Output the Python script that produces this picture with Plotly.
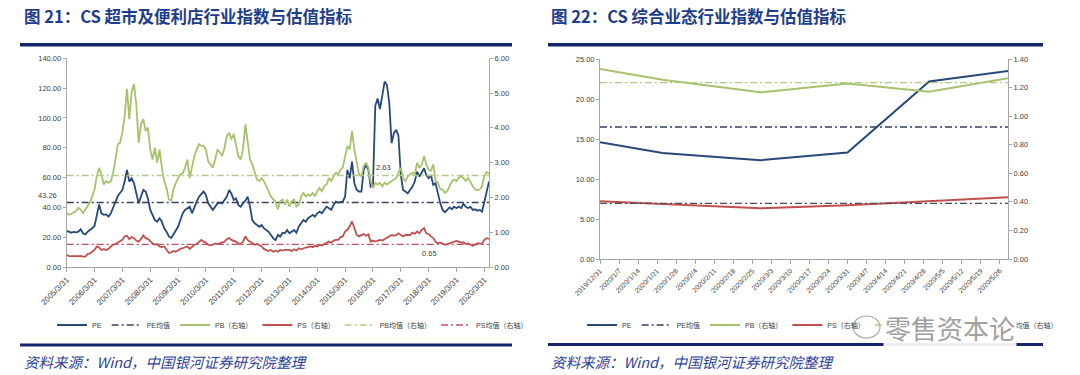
import calendar
import datetime as dt
import plotly.graph_objects as go

# ---------------- data: chart 21 (monthly, 2005/03 - 2020/05) ----------------
PE_21 = [
    24.2, 23.7, 23.0, 23.5, 23.3, 23.7, 25.3, 22.6, 21.9, 23.7, 24.8, 26.0,
    27.5, 33.8, 42.0, 36.0, 35.0, 35.3, 33.8, 36.0, 40.5, 43.8, 47.6, 49.4,
    51.7, 57.3, 65.1, 57.3, 59.5, 56.2, 49.4, 42.7, 47.2, 51.7, 50.6, 46.0,
    38.3, 35.0, 31.5, 30.4, 32.7, 30.4, 26.0, 23.7, 20.5, 19.5, 22.0, 23.7,
    27.0, 31.5, 36.0, 38.3, 39.4, 40.5, 36.0, 40.5, 43.8, 47.2, 49.4, 50.6,
    48.3, 42.7, 40.5, 38.3, 40.5, 42.7, 43.2, 42.7, 45.0, 47.2, 51.7, 49.4,
    45.0, 46.0, 41.6, 40.5, 42.7, 44.5, 47.2, 40.5, 31.5, 29.3, 28.2, 27.0,
    28.2, 26.0, 24.8, 23.7, 21.5, 19.2, 18.1, 21.5, 20.4, 23.0, 22.6, 24.8,
    22.6, 23.7, 24.8, 23.0, 27.0, 29.3, 31.5, 30.4, 32.7, 33.8, 35.0, 33.8,
    36.0, 37.1, 36.0, 38.3, 40.5, 39.4, 38.3, 41.6, 43.8, 43.2, 43.8, 43.8,
    47.2, 65.1, 59.5, 70.7, 56.2, 51.7, 50.6, 50.6, 65.1, 68.5, 65.1, 53.9,
    55.0, 108.0, 113.0, 106.0, 115.0, 124.4, 122.0, 110.0, 83.0, 90.0, 92.0, 88.0,
    62.0, 51.7, 50.6, 49.4, 51.7, 53.9, 57.3, 64.0, 60.6, 64.0, 66.2, 61.7,
    59.5, 61.7, 55.0, 56.2, 49.4, 42.7, 38.3, 36.7, 38.3, 40.0, 38.7, 40.5,
    39.4, 40.5, 39.4, 42.3, 40.5, 39.4, 40.5, 38.3, 38.7, 37.8, 38.3, 37.1,
    43.8, 51.7, 57.3,
]
PB_21 = [
    1.55, 1.50, 1.53, 1.57, 1.60, 1.70, 1.65, 1.55, 1.65, 1.76, 1.86, 2.03,
    2.23, 2.61, 2.85, 2.66, 2.37, 2.47, 2.42, 2.47, 2.71, 3.09, 3.53, 3.57,
    3.86, 4.34, 5.12, 4.25, 5.02, 5.26, 4.68, 3.57, 4.10, 4.25, 3.91, 4.01,
    3.38, 3.09, 3.43, 3.00, 3.38, 2.85, 2.47, 2.27, 1.94, 1.90, 2.25, 2.40,
    2.56, 2.66, 2.69, 2.85, 3.09, 2.56, 2.85, 3.19, 3.38, 3.53, 3.48, 3.48,
    3.38, 3.04, 2.95, 2.85, 3.09, 3.38, 3.29, 3.19, 3.43, 3.77, 3.86, 3.67,
    3.82, 3.48, 3.19, 3.09, 3.38, 4.10, 3.57, 3.09, 2.95, 2.71, 2.51, 2.47,
    2.56, 2.47, 2.32, 2.18, 2.03, 1.94, 1.89, 1.65, 1.89, 1.94, 1.79, 1.94,
    1.74, 1.89, 1.94, 1.74, 1.79, 2.03, 2.13, 2.03, 2.08, 2.05, 2.13, 2.03,
    2.18, 2.27, 2.18, 2.32, 2.37, 2.56, 2.47, 2.61, 2.71, 2.66, 2.80, 2.85,
    3.19, 3.48, 3.38, 3.91, 3.38, 2.95, 2.66, 2.61, 2.90, 3.00, 2.85, 2.47,
    2.27, 2.42, 2.37, 2.42, 2.32, 2.42, 2.37, 2.42, 2.47, 2.51, 2.56, 2.71,
    2.85, 2.56, 2.47, 2.61, 2.66, 2.71, 2.66, 3.00, 2.85, 2.95, 3.19, 2.95,
    2.80, 2.76, 2.95, 2.47, 2.42, 2.23, 2.23, 2.13, 2.18, 2.32, 2.47, 2.51,
    2.47, 2.56, 2.61, 2.56, 2.47, 2.56, 2.42, 2.32, 2.23, 2.21, 2.23, 2.32,
    2.61, 2.73, 2.69,
]
PS_21 = [
    0.35, 0.31, 0.31, 0.30, 0.31, 0.31, 0.32, 0.30, 0.30, 0.37, 0.39, 0.44,
    0.49, 0.59, 0.56, 0.49, 0.51, 0.49, 0.52, 0.59, 0.64, 0.66, 0.70, 0.73,
    0.78, 0.88, 0.90, 0.80, 0.86, 0.83, 0.76, 0.73, 0.80, 0.91, 0.83, 0.81,
    0.73, 0.68, 0.64, 0.66, 0.59, 0.57, 0.59, 0.49, 0.41, 0.42, 0.46, 0.44,
    0.49, 0.52, 0.54, 0.56, 0.59, 0.52, 0.59, 0.64, 0.66, 0.73, 0.78, 0.73,
    0.70, 0.64, 0.62, 0.64, 0.68, 0.66, 0.68, 0.70, 0.73, 0.80, 0.83, 0.78,
    0.76, 0.73, 0.68, 0.66, 0.73, 0.88, 0.78, 0.73, 0.68, 0.64, 0.66, 0.62,
    0.59, 0.52, 0.49, 0.46, 0.49, 0.44, 0.47, 0.44, 0.49, 0.47, 0.49, 0.49,
    0.49, 0.46, 0.51, 0.47, 0.54, 0.51, 0.54, 0.56, 0.57, 0.59, 0.57, 0.61,
    0.59, 0.64, 0.62, 0.66, 0.68, 0.73, 0.70, 0.76, 0.78, 0.78, 0.86, 0.88,
    1.02, 1.07, 1.17, 1.31, 1.12, 0.92, 0.88, 0.92, 0.95, 0.90, 0.94, 0.73,
    0.76, 0.73, 0.76, 0.78, 0.76, 0.80, 0.85, 0.90, 0.92, 0.90, 0.92, 0.97,
    0.92, 0.88, 0.92, 0.91, 0.92, 0.99, 0.95, 1.02, 0.97, 1.07, 1.12, 0.97,
    0.95, 0.88, 0.83, 0.73, 0.68, 0.70, 0.66, 0.64, 0.66, 0.68, 0.71, 0.73,
    0.75, 0.73, 0.70, 0.71, 0.66, 0.68, 0.64, 0.61, 0.64, 0.68, 0.68, 0.66,
    0.78, 0.83, 0.81,
]
PE_MEAN_21 = 43.26
PB_MEAN_21 = 2.63
PS_MEAN_21 = 0.65
TICKS_21 = ["2005/3/31", "2006/3/31", "2007/3/31", "2008/3/31", "2009/3/31",
            "2010/3/31", "2011/3/31", "2012/3/31", "2013/3/31", "2014/3/31",
            "2015/3/31", "2016/3/31", "2017/3/31", "2018/3/31", "2019/3/31",
            "2020/3/31"]

# ---------------- data: chart 22 ----------------
DATES_22 = ["2019-12-31", "2020-01-23", "2020-02-28", "2020-03-31", "2020-04-30", "2020-05-29"]
PE_22 = [14.6, 13.25, 12.35, 13.3, 22.2, 23.5]
PB_22 = [1.33, 1.255, 1.167, 1.228, 1.170, 1.265]
PS_22 = [0.405, 0.385, 0.355, 0.377, 0.407, 0.432]
PE_MEAN_22 = 16.5
PB_MEAN_22 = 1.234
PS_MEAN_22 = 0.39
TICKS_22 = ["2019/12/31", "2020/1/7", "2020/1/14", "2020/1/21", "2020/1/28",
            "2020/2/4", "2020/2/11", "2020/2/18", "2020/2/25", "2020/3/3",
            "2020/3/10", "2020/3/17", "2020/3/24", "2020/3/31", "2020/4/7",
            "2020/4/14", "2020/4/21", "2020/4/28", "2020/5/5", "2020/5/12",
            "2020/5/19", "2020/5/26"]

LEGEND_NAMES = ["PE", "PE均值", "PB（右轴）", "PS（右轴）", "PB均值（右轴）", "PS均值（右轴）"]


def month_ends(y, m, n):
    out = []
    for _ in range(n):
        out.append(dt.date(y, m, calendar.monthrange(y, m)[1]).isoformat())
        m += 1
        if m > 12:
            m, y = 1, y + 1
    return out


def slash_to_iso(s):
    y, m, d = (int(v) for v in s.split("/"))
    return dt.date(y, m, d).isoformat()


dates_21 = month_ends(2005, 3, len(PE_21))

W, H = 1080, 375
def px(x):
    return x / W
def py(y):
    return 1 - y / H

C_PE = "#27497A"
C_PB = "#A8C16C"
C_PS = "#C0504D"
C_PEM = "#34405E"
C_PBM = "#B4C987"
C_PSM21 = "#C24E60"
C_PSM22 = "#4C4C5C"
DASH = "7px,3px,2px,3px"
FONT = "Liberation Sans, Noto Sans CJK SC, sans-serif"
CJK = "Noto Sans CJK SC, sans-serif"

fig = go.Figure()

def add_set(dates, pe, pb, ps, pem, pbm, psm, xa, ya, ya2, leg, psm_color, w):
    n = len(dates)
    fig.add_trace(go.Scatter(x=dates, y=pe, name=LEGEND_NAMES[0], mode="lines",
                             line=dict(color=C_PE, width=w), xaxis=xa, yaxis=ya, legend=leg))
    fig.add_trace(go.Scatter(x=dates, y=[pem] * n, name=LEGEND_NAMES[1], mode="lines",
                             line=dict(color=C_PEM, width=1.3, dash=DASH), xaxis=xa, yaxis=ya, legend=leg))
    fig.add_trace(go.Scatter(x=dates, y=pb, name=LEGEND_NAMES[2], mode="lines",
                             line=dict(color=C_PB, width=w), xaxis=xa, yaxis=ya2, legend=leg))
    fig.add_trace(go.Scatter(x=dates, y=ps, name=LEGEND_NAMES[3], mode="lines",
                             line=dict(color=C_PS, width=w), xaxis=xa, yaxis=ya2, legend=leg))
    fig.add_trace(go.Scatter(x=dates, y=[pbm] * n, name=LEGEND_NAMES[4], mode="lines",
                             line=dict(color=C_PBM, width=1.3, dash=DASH), xaxis=xa, yaxis=ya2, legend=leg))
    fig.add_trace(go.Scatter(x=dates, y=[psm] * n, name=LEGEND_NAMES[5], mode="lines",
                             line=dict(color=psm_color, width=1.3, dash=DASH), xaxis=xa, yaxis=ya2, legend=leg))

add_set(dates_21, PE_21, PB_21, PS_21, PE_MEAN_21, PB_MEAN_21, PS_MEAN_21,
        "x", "y", "y2", "legend", C_PSM21, 1.8)
add_set(DATES_22, PE_22, PB_22, PS_22, PE_MEAN_22, PB_MEAN_22, PS_MEAN_22,
        "x2", "y3", "y4", "legend2", C_PSM22, 2.0)

axis_base = dict(showline=True, linecolor="#A6A6A6", linewidth=1, showgrid=False,
                 zeroline=False, ticks="outside", tickcolor="#A6A6A6", automargin=False)
yfont = dict(family=FONT, size=7.5, color="#404040")

fig.update_layout(
    width=W, height=H, margin=dict(l=0, r=0, t=0, b=0, autoexpand=False),
    paper_bgcolor="white", plot_bgcolor="white",
    font=dict(family=FONT, size=7.5, color="#404040"),
    xaxis=dict(domain=[px(66.7), px(489)], anchor="y", type="date",
               range=[dates_21[0], dates_21[-1]],
               tickvals=[slash_to_iso(t) for t in TICKS_21], ticktext=TICKS_21,
               tickangle=-45, ticklen=4, tickfont=dict(family=FONT, size=8, color="#404040"),
               **axis_base),
    yaxis=dict(domain=[py(267), py(58.3)], anchor="x", range=[0, 140], dtick=20,
               tickformat=".2f", ticklen=3, tickfont=yfont, **axis_base),
    yaxis2=dict(overlaying="y", side="right", anchor="x", range=[0, 6], dtick=1,
                tickformat=".2f", ticklen=3, tickfont=yfont, **axis_base),
    xaxis2=dict(domain=[px(600), px(1008)], anchor="y3", type="date",
                range=[DATES_22[0], DATES_22[-1]],
                tickvals=[slash_to_iso(t) for t in TICKS_22], ticktext=TICKS_22,
                tickangle=-45, ticklen=4, tickfont=dict(family=FONT, size=7, color="#404040"),
                **axis_base),
    yaxis3=dict(domain=[py(259), py(59)], anchor="x2", range=[0, 25], dtick=5,
                tickformat=".2f", ticklen=3, tickfont=yfont, **axis_base),
    yaxis4=dict(overlaying="y3", side="right", anchor="x2", range=[0, 1.4], dtick=0.2,
                tickformat=".2f", ticklen=3, tickfont=yfont, **axis_base),
    legend=dict(orientation="h", x=px(52), xanchor="left", y=py(325), yanchor="middle",
                font=dict(family=FONT, size=7, color="#404040"), itemwidth=30,
                bgcolor="rgba(0,0,0,0)", traceorder="normal"),
    legend2=dict(orientation="h", x=px(582), xanchor="left", y=py(325), yanchor="middle",
                 font=dict(family=FONT, size=7, color="#404040"), itemwidth=30,
                 bgcolor="rgba(0,0,0,0)", traceorder="normal"),
)

NAVY = "#17256C"
shapes = []
for x0, x1, y, wdt in [(20, 512, 44.8, 3.5), (20, 512, 345, 3), (548, 1043, 44.8, 3.5), (548, 1043, 344.5, 3)]:
    shapes.append(dict(type="line", xref="paper", yref="paper", x0=px(x0), x1=px(x1),
                       y0=py(y), y1=py(y), line=dict(color=NAVY, width=wdt)))
# watermark icon
shapes.append(dict(type="circle", xref="paper", yref="paper", x0=px(853), x1=px(880),
                   y0=py(338), y1=py(316), line=dict(color="#A8A8A8", width=1.2),
                   fillcolor="rgba(255,255,255,0.95)", layer="above"))
fig.update_layout(shapes=shapes)

ann = []
TITLE_C = "#1E3C8C"
ann.append(dict(text="<b>图 21：CS 超市及便利店行业指数与估值指标</b>", xref="paper", yref="paper",
                x=px(22), y=py(16), xanchor="left", yanchor="middle", showarrow=False,
                font=dict(family=CJK, size=16.5, color=TITLE_C)))
ann.append(dict(text="<b>图 22：CS 综合业态行业指数与估值指标</b>", xref="paper", yref="paper",
                x=px(549), y=py(16), xanchor="left", yanchor="middle", showarrow=False,
                font=dict(family=CJK, size=16.5, color=TITLE_C)))
for xs in (22, 549):
    ann.append(dict(text="资料来源：Wind，中国银河证券研究院整理", xref="paper", yref="paper",
                    x=px(xs), y=py(361), xanchor="left", yanchor="middle", showarrow=False,
                    font=dict(family=CJK, size=14.5, color="#2E3F9A", style="italic")))
ann.append(dict(text="43.26", xref="paper", yref="y", x=px(59), y=PE_MEAN_21, yshift=7,
                xanchor="right", yanchor="middle", showarrow=False,
                font=dict(family=FONT, size=7.5, color="#404040")))
ann.append(dict(text="2.63", xref="x", yref="y2", x="2016-08-15", y=PB_MEAN_21, yshift=8,
                xanchor="center", yanchor="middle", showarrow=False,
                font=dict(family=FONT, size=7.5, color="#404040")))
ann.append(dict(text="0.65", xref="x", yref="y2", x="2018-04-15", y=PS_MEAN_21, yshift=-9,
                xanchor="center", yanchor="middle", showarrow=False,
                font=dict(family=FONT, size=7.5, color="#404040")))
ann.append(dict(text="零售资本论", xref="paper", yref="paper", x=px(950), y=py(327),
                xanchor="center", yanchor="middle", showarrow=False,
                bgcolor="rgba(255,255,255,0.93)",
                font=dict(family=CJK, size=26, color="#A0A0A0")))
fig.update_layout(annotations=ann)

fig.write_html("out.html", config={"displayModeBar": False},
               post_script="document.body.style.margin='0';document.body.style.overflow='hidden';")
